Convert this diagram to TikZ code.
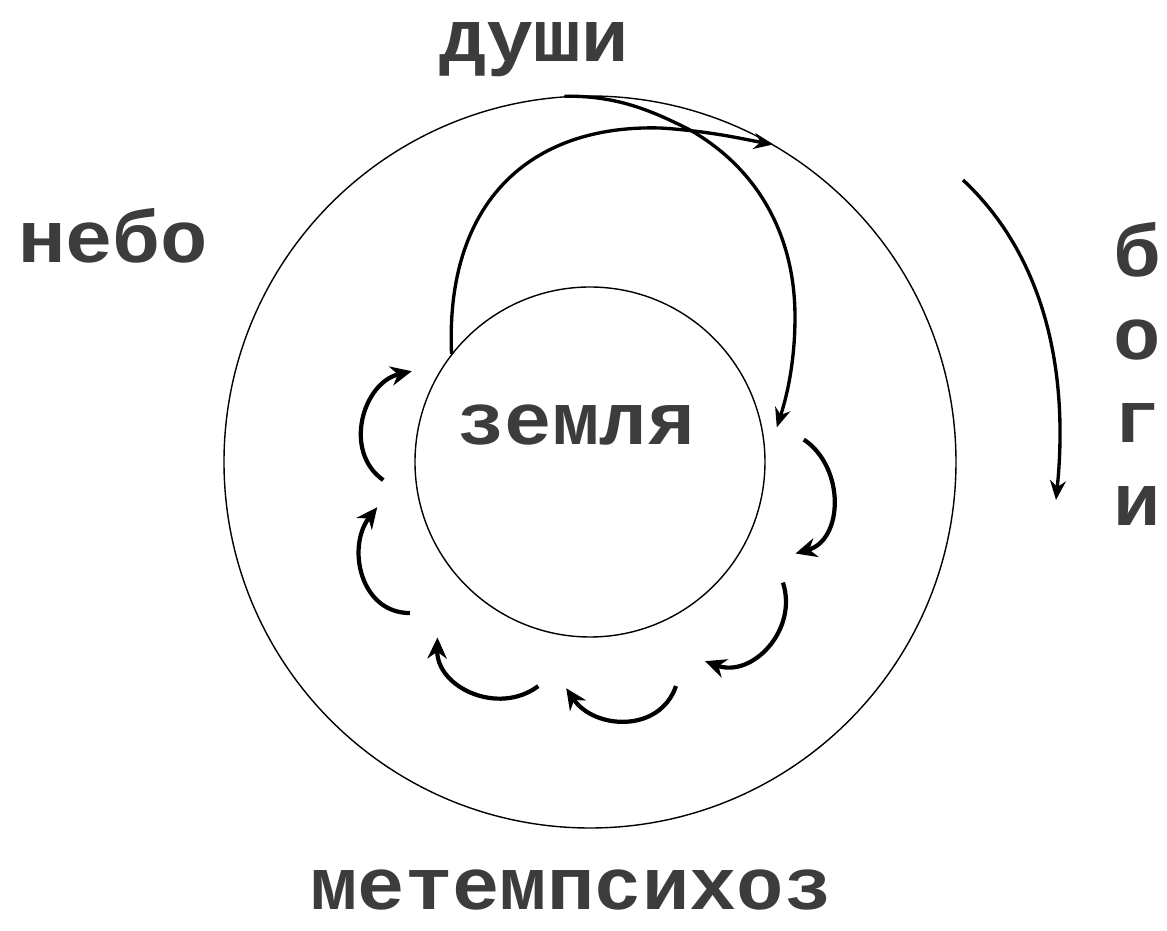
\documentclass[tikz,border=0pt]{standalone}
\usepackage{fontspec}
\usetikzlibrary{arrows.meta}
\newfontfamily\mpfont{Liberation Mono}[FakeStretch=1.07]
\definecolor{inkgrey}{HTML}{3C3C3C}
\tikzset{
    mp ring/.style={circle, draw=black, line width=0.8pt, inner sep=0pt},
    mp word/.style={font=\mpfont\bfseries\fontsize{42}{50}\selectfont,
                    text=inkgrey, anchor=base, inner sep=0pt},
    mp flow/.style={line width=1.9pt, -{Stealth[length=11pt, width=9pt]}},
    mp hop/.style={line width=2.4pt, -{Stealth[length=12pt, width=11pt]}},
}

\begin{document}
\begin{tikzpicture}
    \useasboundingbox (-11.8,-9.38) rectangle (11.54,9.24);
    % Heaven and earth
    \node[mp ring, minimum size=14.64cm] (sky) at (0,0) {};
    \node[mp ring, minimum size=7cm] (earth) at (0,0) {};
    % Labels
    \node[mp word] (earthlbl) at (-0.28,0.34) {земля};
    \node[mp word] (souls) at (-1.12,8.0) {души};
    \node[mp word] (heaven) at (-9.54,3.98) {небо};
    \node[mp word] (metemp) at (-0.38,-8.96) {метемпсихоз};
    \foreach \ch [count=\i] in {б,о,г,и}
        \node[mp word] (gods\i) at (10.94, 5.36-1.66*\i) {\ch};
    % Souls rise from the earth ...
    \draw[mp flow] (earth.142) .. controls (-2.9,5.2) and (-1.2,6.75) .. (1.4,6.68)
        .. controls (2.4,6.62) and (3.1,6.45) .. (sky.60);
    % ... and come back down
    \draw[mp flow] (sky.94) .. controls (0.5,7.33) and (1.2,7.05) .. (2.0,6.64)
        .. controls (3.3,5.9) and (4.1,4.6) .. (4.1,2.9)
        .. controls (4.1,1.9) and (3.9,1.2) .. (10.5:3.8);
    % Round of rebirths
    \foreach \s/\rs/\e/\re in {6/4.3/-24/4.5, -32/4.55/-60/4.6, -69/4.8/-96/4.55,
                               -103/4.6/-131/4.65, -140/4.7/-168/4.35, -175/4.15/-207/4.0}
        \draw[mp hop] (\s:\rs) .. controls +(\s-40:1) and +(\e+40:1) .. (\e:\re);
    % Way of the gods
    \draw[mp flow] (7.46,5.64) .. controls (9.0,4.2) and (9.6,2.0) .. (9.32,-0.76);
\end{tikzpicture}
\end{document}
